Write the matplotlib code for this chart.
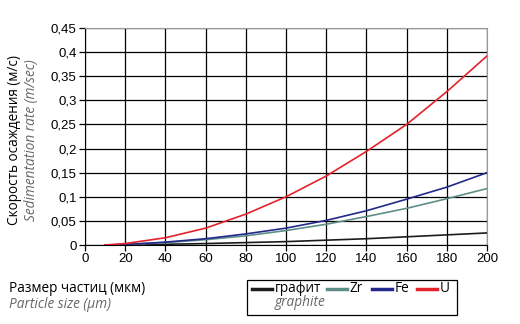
import numpy as np
import matplotlib
matplotlib.use("Agg")
import matplotlib.pyplot as plt
from matplotlib.lines import Line2D
from matplotlib.patches import Rectangle
from matplotlib.ticker import FuncFormatter

plt.rcParams['font.family'] = ['Open Sans', 'DejaVu Sans']

# particle size, um
size = [10, 20, 40, 60, 80, 100, 120, 140, 160, 180, 200]

# sedimentation rate, m/s
graphite = [0.0, 0.0005, 0.0015, 0.003, 0.005, 0.007, 0.010, 0.013, 0.017, 0.021, 0.025]
zr = [0.0, 0.001, 0.005, 0.011, 0.019, 0.030, 0.043, 0.059, 0.076, 0.096, 0.117]
fe = [0.0, 0.001, 0.006, 0.013, 0.023, 0.035, 0.051, 0.071, 0.095, 0.120, 0.150]
u = [0.0, 0.003, 0.015, 0.035, 0.064, 0.100, 0.143, 0.194, 0.250, 0.318, 0.392]

series = [graphite, zr, fe, u]
names = ["графит", "Zr", "Fe", "U"]
colors = ["#1c1c1c", "#5e8e88", "#22298a", "#e4222b"]

fig = plt.figure(figsize=(5.2, 3.24), dpi=100)
ax = fig.add_axes([85 / 520, 1 - 245 / 324, 402 / 520, 217 / 324])

for vals, c in zip(series, colors):
    ax.plot(size, vals, color=c, lw=1.2, zorder=3)

ax.set_xlim(0, 200)
ax.set_ylim(0, 0.45)
ax.set_xticks(np.arange(0, 201, 20))
ax.set_yticks(np.arange(0, 0.451, 0.05))
ax.yaxis.set_major_formatter(FuncFormatter(lambda v, p: f"{v:.2f}".rstrip("0").rstrip(".").replace(".", ",")))
ax.grid(True, color="black", lw=0.9)
ax.tick_params(length=4, width=0.9, labelsize=9.5, pad=2)
for lab in ax.get_xticklabels() + ax.get_yticklabels():
    lab.set_family(["Liberation Sans", "DejaVu Sans"])
for side in ["top", "right"]:
    ax.spines[side].set_color("#999999")
for side in ["left", "bottom"]:
    ax.spines[side].set_color("black")

fs = 9.8
# axis titles
fig.text(15 / 520, 1 - 140 / 324, "Скорость осаждения (м/с)", rotation=90,
         ha="center", va="center", fontsize=fs)
fig.text(32 / 520, 1 - 140 / 324, "Sedimentation rate (m/sec)", rotation=90,
         ha="center", va="center", fontsize=fs, style="italic", color="#666666")
fig.text(9 / 520, 1 - 288 / 324, "Размер частиц (мкм)", ha="left", va="center", fontsize=fs)
fig.text(9 / 520, 1 - 305 / 324, "Particle size (μm)", ha="left", va="center",
         fontsize=fs, style="italic", color="#666666")

# legend box
fig.add_artist(Rectangle((247 / 520, 1 - 315 / 324), 210 / 520, 35 / 324,
                         transform=fig.transFigure, fill=False, ec="black", lw=0.9))
handle_x = [252, 327, 372, 417]
row_y = 1 - 289 / 324
for hx, name, c in zip(handle_x, names, colors):
    fig.add_artist(Line2D([hx / 520, (hx + 20) / 520], [row_y, row_y],
                          transform=fig.transFigure, color=c, lw=2.5))
    fig.text((hx + 23) / 520, row_y, name, ha="left", va="center", fontsize=fs)
fig.text(275 / 520, 1 - 303 / 324, "graphite", ha="left", va="center",
         fontsize=fs, style="italic", color="#666666")

fig.savefig("out.png", dpi=100)
